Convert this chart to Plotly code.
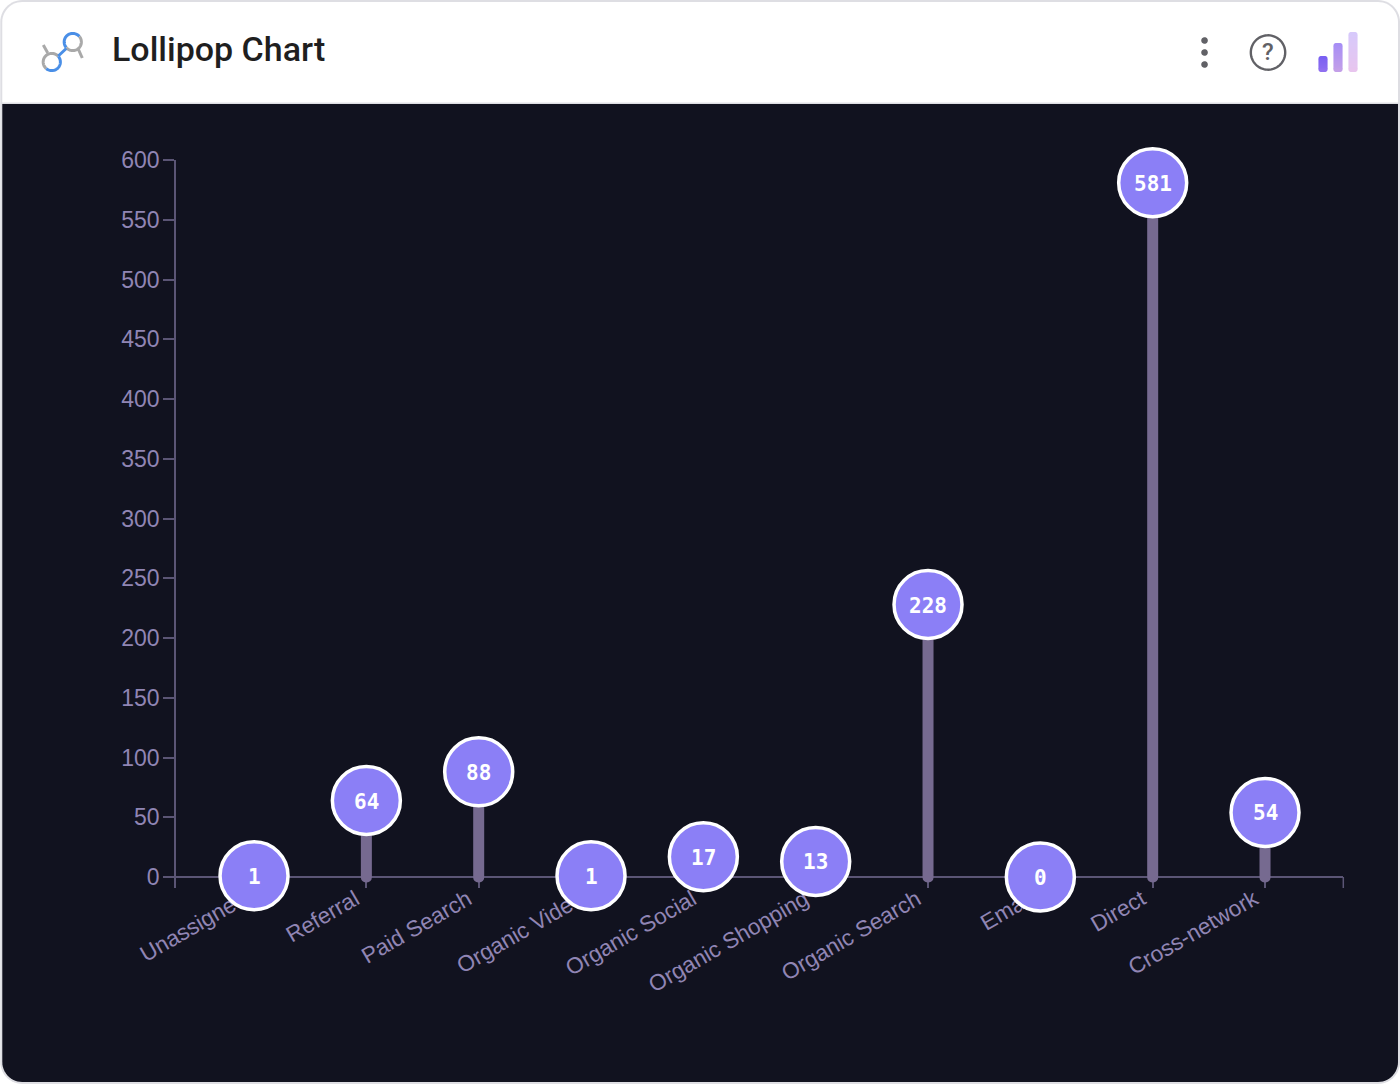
import numpy as np
import plotly.graph_objects as go

categories = ["Unassigned", "Referral", "Paid Search", "Organic Video", "Organic Social",
              "Organic Shopping", "Organic Search", "Email", "Direct", "Cross-network"]
values = [1, 64, 88, 1, 17, 13, 228, 0, 581, 54]
y_ticks = [0, 50, 100, 150, 200, 250, 300, 350, 400, 450, 500, 550, 600]

W, H = 1400, 1084
# Plot box in pixels; its lower edge sits a tick's length under the zero line
PL, PR, PT, PB = 175.75, 1343, 160, 888
ZERO_Y = 877
UNITS_PER_PX = 600 / (ZERO_Y - PT)
Y_FLOOR = -(PB - ZERO_Y) * UNITS_PER_PX
STEM_FLOOR = -4.6
FIRST_X, LAST_X = 253.8, 1265
X_STEP = (LAST_X - FIRST_X) / 9

AXIS = "#5b5575"
TICK_TEXT = "#9085b4"
DARK = "#11121f"


def px(x):
    return (x - PL) / (PR - PL)


def py(y):
    return (PB - y) / (PB - PT)


def path(points, close=False):
    d = "M" + " L".join(f"{px(x):.5f},{py(y):.5f}" for x, y in points)
    return d + (" Z" if close else "")


def arc(cx, cy, r, a0, a1, n=40):
    t = np.radians(np.linspace(a0, a1, n))
    return list(zip(cx + r * np.cos(t), cy + r * np.sin(t)))


def rounded(x0, y0, x1, y1, tl=0, tr=0, br=0, bl=0):
    pts = []
    pts += arc(x0 + tl, y0 + tl, tl, 180, 270, 14) if tl else [(x0, y0)]
    pts += arc(x1 - tr, y0 + tr, tr, 270, 360, 14) if tr else [(x1, y0)]
    pts += arc(x1 - br, y1 - br, br, 0, 90, 14) if br else [(x1, y1)]
    pts += arc(x0 + bl, y1 - bl, bl, 90, 180, 14) if bl else [(x0, y1)]
    return path(pts, True)


def fill_shape(d, color):
    return dict(type="path", xref="paper", yref="paper", path=d, fillcolor=color,
                line=dict(width=0), layer="below")


def stroke_shape(points, color, width):
    return dict(type="path", xref="paper", yref="paper", path=path(points),
                line=dict(color=color, width=width), layer="below")


def gradient_bar(x0, y0, x1, y1, top, bottom, radius=2.5):
    """Rounded icon bar with a vertical colour ramp built from thin slices."""
    top, bottom = np.array(top), np.array(bottom)
    rows = int(y1 - y0)
    out = []
    for i in range(rows):
        c = top + (bottom - top) * (i / max(rows - 1, 1))
        color = f"rgb({c[0]:.0f},{c[1]:.0f},{c[2]:.0f})"
        ya, yb = y0 + i, min(y0 + i + 1.3, y1)
        if i == 0:
            d = rounded(x0, ya, x1, ya + radius + 1, radius, radius, 0, 0)
        elif i == rows - 1:
            d = rounded(x0, y1 - radius - 1, x1, y1, 0, 0, radius, radius)
        elif radius < i < rows - radius - 1:
            d = rounded(x0, ya, x1, yb)
        else:
            continue
        out.append(fill_shape(d, color))
    return out


shapes = [
    # card frame, white header and dark chart panel
    fill_shape(rounded(0, 0, 1400, 1084, 22, 22, 22, 22), "#dedee3"),
    fill_shape(rounded(2, 2, 1398, 102.5, 20, 20, 0, 0), "#ffffff"),
    fill_shape(rounded(2, 104, 1398, 1082, 0, 0, 20, 20), DARK),
    # closing tick at the right end of the baseline
    stroke_shape([(PR + 0.3, ZERO_Y), (PR + 0.3, PB)], AXIS, 1.5),
    # chart-type emblem
    stroke_shape([(43, 45), (47.5, 53)], "#a9a9a9", 3),
    stroke_shape([(78, 49), (82, 58)], "#a9a9a9", 3),
    stroke_shape(arc(51.5, 62, 8.6, 130, 320), "#a9a9a9", 3),
    stroke_shape(arc(51.5, 62, 8.6, -40, 130), "#4a8fe7", 3),
    stroke_shape(arc(72.5, 42, 8.6, 140, 320), "#4a8fe7", 3),
    stroke_shape(arc(72.5, 42, 8.6, -40, 140), "#a9a9a9", 3),
    stroke_shape([(58, 56), (66, 48.5)], "#4a8fe7", 3),
    # kebab menu
    fill_shape(path(arc(1204.5, 40.5, 3.3, 0, 360), True), "#616166"),
    fill_shape(path(arc(1204.5, 52.5, 3.3, 0, 360), True), "#616166"),
    fill_shape(path(arc(1204.5, 64.5, 3.3, 0, 360), True), "#616166"),
    # help badge
    stroke_shape(arc(1268, 52.5, 17.2, 0, 360, 70), "#616166", 2.4),
]
# signal bars
shapes += gradient_bar(1318.5, 56, 1327.5, 72, (122, 96, 242), (143, 111, 240))
shapes += gradient_bar(1333.5, 43, 1342.5, 72, (167, 142, 245), (195, 159, 232))
shapes += gradient_bar(1348.5, 32, 1357.5, 72, (215, 201, 251), (232, 197, 238))

fig = go.Figure()

# Stems start slightly under the baseline so their rounded foot shows
fig.add_trace(go.Bar(
    x=categories,
    y=[v - STEM_FLOOR for v in values],
    base=STEM_FLOOR,
    width=0.098,
    marker=dict(color="#766a90", line=dict(width=0)),
    hoverinfo="skip",
))

# Lollipop heads
fig.add_trace(go.Scatter(
    x=categories,
    y=values,
    mode="markers",
    marker=dict(size=68, color="#8b7ff6", line=dict(color="#ffffff", width=3.5), opacity=1),
    cliponaxis=False,
))

# Value labels, nudged onto the optical centre of each head
annotations = [
    dict(x=c, y=v, text=str(v), showarrow=False, xanchor="center", yanchor="middle", yshift=-1,
         font=dict(family="DejaVu Sans Mono", size=21, color="#ffffff", weight="bold"))
    for c, v in zip(categories, values)
]
annotations += [
    dict(text="Lollipop Chart", xref="paper", yref="paper", x=px(110), y=py(49),
         xanchor="left", yanchor="middle", showarrow=False,
         font=dict(family="Roboto", size=34, color="#1f1f1f", weight=500)),
    dict(text="?", xref="paper", yref="paper", x=px(1268), y=py(52),
         xanchor="center", yanchor="middle", showarrow=False,
         font=dict(family="Roboto", size=24, color="#616166", weight=500)),
]

fig.update_layout(
    width=W,
    height=H,
    margin=dict(l=PL, r=W - PR, t=PT, b=H - PB, pad=0),
    paper_bgcolor="#ffffff",
    plot_bgcolor="rgba(0,0,0,0)",
    showlegend=False,
    barcornerradius=5,
    shapes=shapes,
    annotations=annotations,
    xaxis=dict(
        type="category",
        categoryorder="array",
        categoryarray=categories,
        range=[-(FIRST_X - PL) / X_STEP, 9 + (PR - LAST_X) / X_STEP],
        showgrid=False,
        zeroline=False,
        showline=False,
        ticks="inside",
        ticklen=11,
        tickwidth=1.5,
        tickcolor=AXIS,
        tickangle=-30,
        ticklabelshift=-11,
        ticklabelstandoff=-7,
        tickfont=dict(family="Liberation Sans", size=22.5, color=TICK_TEXT),
        layer="below traces",
    ),
    yaxis=dict(
        range=[Y_FLOOR, 600],
        tickmode="array",
        tickvals=y_ticks,
        showgrid=False,
        zeroline=True,
        zerolinecolor=AXIS,
        zerolinewidth=1.5,
        showline=True,
        linecolor=AXIS,
        linewidth=1.5,
        ticks="outside",
        ticklen=11,
        tickwidth=1.5,
        tickcolor=AXIS,
        ticklabelstandoff=-1,
        tickfont=dict(family="Liberation Sans", size=23, color=TICK_TEXT),
        layer="below traces",
    ),
)

fig.write_html("out.html", config=dict(displayModeBar=False))
